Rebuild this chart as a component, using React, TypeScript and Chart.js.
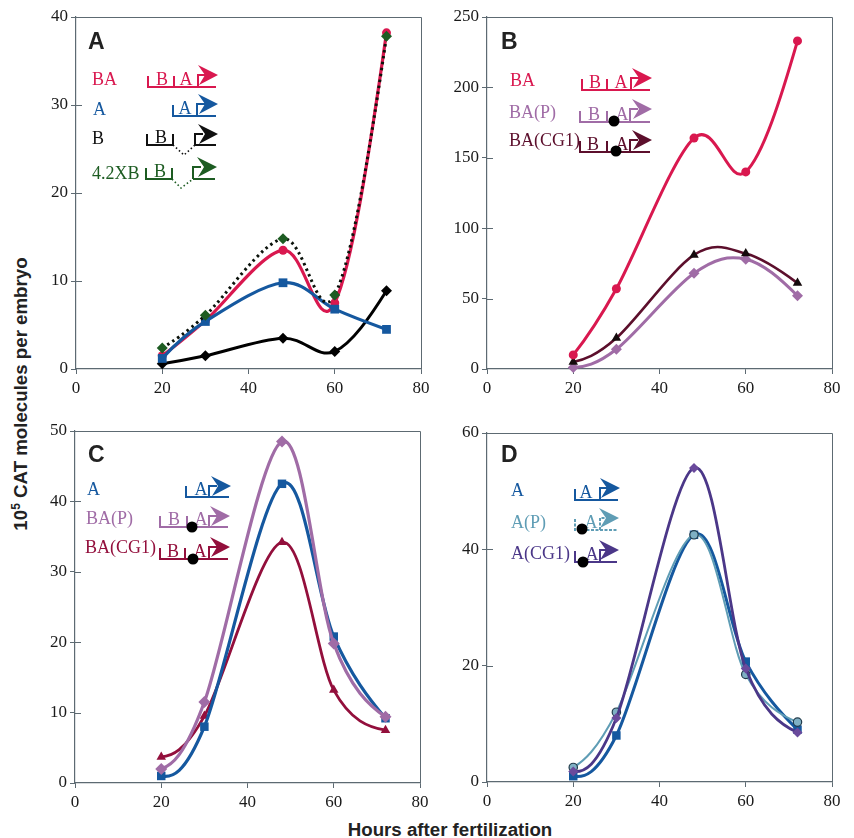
import React, { useEffect, useRef } from "react";
import { Chart, registerables } from "chart.js";

Chart.register(...registerables);

const hours = [20, 30, 48, 60, 72];
const xTicksMax = 80;

// Panel A
const aBA = [1.5, 5.5, 13.5, 7.5, 38.2];
const aA = [1.2, 5.4, 9.8, 6.8, 4.5];
const aB = [0.6, 1.5, 3.5, 2, 8.9];
const aXB = [2.4, 6.1, 14.8, 8.4, 37.8];
// Panel B
const bBA = [10, 57, 164, 140, 233];
const bP = [1, 14, 68, 78, 52];
const bCG1 = [5, 22, 81, 82, 61];
// Panel C
const cA = [1, 8, 42.5, 20.8, 9.2];
const cP = [2, 11.5, 48.5, 19.8, 9.4];
const cCG1 = [3.7, 9.5, 34.2, 13.2, 7.5];
// Panel D
const dP = [2.5, 12, 42.5, 18.5, 10.3];
const dCG1 = [1.8, 11, 54, 19.5, 8.5];
const dA = [1, 8, 42.5, 20.7, 9];

const RED = "#d9184f";
const BLUE = "#15589f";
const PURPLE = "#a06ca6";
const MAROON = "#5c0f2c";
const CRIMSON = "#930f3c";
const VIOLET = "#4b3788";
const TEAL = "#5f9db5";
const GREEN = "#1d5c22";
const AXIS = "#5d6a72";
const SERIF = "'Liberation Serif', serif";
const SANS = "'Liberation Sans', sans-serif";

type Row = {
  label: string; lx: number; ly: number; color: string;
  x0: number; x1: number; y: number; ticks: number[]; letters: [string, number][]; prom: number; ay: number;
  dot?: [number, number]; gap?: [number, number, number, number]; dashed?: boolean;
};

const panels: any[] = [
  {
    name: "A", box: [40, 0, 395, 410], plot: [76, 17, 421, 369], yMax: 40, yStep: 10, nx: 88, ny: 49,
    series: [
      { data: aB, color: "#000", fill: "#000", style: "rectRot", r: 5.5, w: 3 },
      { data: aBA, color: RED, fill: RED, style: "circle", r: 4.5, w: 3.2 },
      { data: aA, color: BLUE, fill: BLUE, style: "rect", r: 6.2, w: 3.2 },
      { data: aXB, color: "#0b120b", fill: GREEN, style: "rectRot", r: 5.5, w: 3, dash: [2.5, 3.5] },
    ],
    rows: [
      { label: "BA", lx: 92, ly: 85, color: RED, x0: 148, x1: 216, y: 87, ticks: [174], letters: [["B", 162], ["A", 186]], prom: 198, ay: 75 },
      { label: "A", lx: 93, ly: 115, color: BLUE, x0: 173, x1: 216, y: 116, ticks: [], letters: [["A", 185]], prom: 197, ay: 104 },
      { label: "B", lx: 92, ly: 144, color: "#111", x0: 147, x1: 216, y: 145, ticks: [173], letters: [["B", 161]], prom: 195, ay: 134, gap: [173, 195, 184, 155] },
      { label: "4.2XB", lx: 92, ly: 179, color: GREEN, x0: 146, x1: 215, y: 179, ticks: [172], letters: [["B", 160]], prom: 193, ay: 167, gap: [172, 193, 181, 188] },
    ] as Row[],
  },
  {
    name: "B", box: [445, 0, 400, 410], plot: [487, 17, 832, 369], yMax: 250, yStep: 50, nx: 501, ny: 49,
    series: [
      { data: bP, color: PURPLE, fill: PURPLE, style: "rectRot", r: 5.5, w: 3 },
      { data: bCG1, color: MAROON, fill: "#140a0c", style: "triangle", r: 5.5, w: 2.6 },
      { data: bBA, color: RED, fill: RED, style: "circle", r: 4.5, w: 3 },
    ],
    rows: [
      { label: "BA", lx: 510, ly: 86, color: RED, x0: 582, x1: 650, y: 90, ticks: [607], letters: [["B", 595], ["A", 621]], prom: 631, ay: 78 },
      { label: "BA(P)", lx: 509, ly: 118, color: PURPLE, x0: 580, x1: 650, y: 122, ticks: [607], letters: [["B", 594], ["A", 622]], prom: 630, ay: 109, dot: [614, 121] },
      { label: "BA(CG1)", lx: 509, ly: 146, color: MAROON, x0: 580, x1: 650, y: 152, ticks: [607], letters: [["B", 593], ["A", 622]], prom: 630, ay: 140, dot: [616, 151] },
    ] as Row[],
  },
  {
    name: "C", box: [40, 415, 395, 400], plot: [75, 431, 420, 783], yMax: 50, yStep: 10, nx: 88, ny: 462,
    series: [
      { data: cCG1, color: CRIMSON, fill: CRIMSON, style: "triangle", r: 5.5, w: 2.8 },
      { data: cA, color: BLUE, fill: BLUE, style: "rect", r: 6, w: 3.2 },
      { data: cP, color: PURPLE, fill: PURPLE, style: "rectRot", r: 6, w: 3.2 },
    ],
    rows: [
      { label: "A", lx: 87, ly: 495, color: BLUE, x0: 186, x1: 229, y: 497, ticks: [], letters: [["A", 201]], prom: 209, ay: 486 },
      { label: "BA(P)", lx: 86, ly: 524, color: PURPLE, x0: 160, x1: 228, y: 527, ticks: [187], letters: [["B", 174], ["A", 201]], prom: 209, ay: 516, dot: [192, 527] },
      { label: "BA(CG1)", lx: 85, ly: 553, color: CRIMSON, x0: 160, x1: 228, y: 559, ticks: [185], letters: [["B", 173], ["A", 200]], prom: 209, ay: 547, dot: [193, 559] },
    ] as Row[],
  },
  {
    name: "D", box: [445, 415, 400, 400], plot: [487, 433, 832, 782], yMax: 60, yStep: 20, nx: 501, ny: 462,
    series: [
      { data: dA, color: BLUE, fill: BLUE, style: "rect", r: 6, w: 3 },
      { data: dP, color: TEAL, fill: "#7fb0c4", style: "circle", r: 4.2, w: 2, edge: "#203a4a" },
      { data: dCG1, color: VIOLET, fill: "#6a4a9c", style: "rectRot", r: 5, w: 2.8 },
    ],
    rows: [
      { label: "A", lx: 511, ly: 496, color: BLUE, x0: 575, x1: 618, y: 500, ticks: [], letters: [["A", 586]], prom: 600, ay: 488 },
      { label: "A(P)", lx: 511, ly: 528, color: TEAL, x0: 575, x1: 617, y: 530, ticks: [], letters: [["A", 591]], prom: 600, ay: 518, dot: [582, 529], dashed: true },
      { label: "A(CG1)", lx: 511, ly: 559, color: VIOLET, x0: 575, x1: 617, y: 562, ticks: [], letters: [["A", 592]], prom: 600, ay: 550, dot: [583, 562] },
    ] as Row[],
  },
];

// Smooth line as the source plot has it: tangents from the neighbouring points, eased at both ends.
const smoothing = {
  id: "smoothing",
  beforeDatasetsDraw(chart: any) {
    chart.getSortedVisibleDatasetMetas().forEach((meta: any) => {
      const line = meta.dataset;
      line.updateControlPoints(chart.chartArea, "x");
      const pts = line.points;
      const n = pts.length;
      const tan = pts.map((_: any, i: number) => {
        if (i === 0 || i === n - 1) return null;
        return { x: (pts[i + 1].x - pts[i - 1].x) / 2, y: (pts[i + 1].y - pts[i - 1].y) / 2 };
      });
      const endTan = (a: any, b: any, t: any) => ({
        x: (3 * (b.x - a.x) - 1.1 * t.x) / 2,
        y: (3 * (b.y - a.y) - 1.1 * t.y) / 2,
      });
      tan[0] = endTan(pts[0], pts[1], tan[1]);
      tan[n - 1] = endTan(pts[n - 2], pts[n - 1], tan[n - 2]);
      pts.forEach((p: any, i: number) => {
        p.cp1x = p.x - tan[i].x / 3;
        p.cp1y = p.y - tan[i].y / 3;
        p.cp2x = p.x + tan[i].x / 3;
        p.cp2y = p.y + tan[i].y / 3;
      });
    });
  },
};

function drawRow(ctx: CanvasRenderingContext2D, r: Row) {
  ctx.save();
  ctx.font = `18px ${SERIF}`;
  ctx.textBaseline = "alphabetic";
  ctx.textAlign = "left";
  ctx.fillStyle = r.color;
  ctx.fillText(r.label, r.lx, r.ly);
  ctx.strokeStyle = r.color;
  ctx.lineWidth = 2;
  if (r.dashed) ctx.setLineDash([3, 1.5]);
  ctx.beginPath();
  ctx.moveTo(r.x0, r.y - 11);
  ctx.lineTo(r.x0, r.y);
  if (r.gap) {
    const [a, b] = r.gap;
    ctx.lineTo(a, r.y);
    ctx.moveTo(b, r.y);
  }
  ctx.lineTo(r.x1, r.y);
  for (const t of r.ticks) {
    ctx.moveTo(t, r.y);
    ctx.lineTo(t, r.y - 11);
  }
  ctx.moveTo(r.prom, r.y);
  ctx.lineTo(r.prom, r.ay);
  ctx.lineTo(r.prom + 8, r.ay);
  ctx.stroke();
  ctx.setLineDash([]);
  if (r.gap) {
    const [a, b, c, d] = r.gap;
    ctx.setLineDash([1.5, 2.5]);
    ctx.lineWidth = 1.6;
    ctx.beginPath();
    ctx.moveTo(a, r.y);
    ctx.lineTo(c, d);
    ctx.lineTo(b, r.y);
    ctx.stroke();
    ctx.setLineDash([]);
  }
  ctx.font = `18px ${SERIF}`;
  ctx.textAlign = "center";
  for (const [t, x] of r.letters) ctx.fillText(t, x, r.y - 2);
  const tip = r.x1 + 2;
  ctx.beginPath();
  ctx.moveTo(tip, r.ay);
  ctx.lineTo(tip - 20, r.ay - 10);
  ctx.lineTo(tip - 13, r.ay);
  ctx.lineTo(tip - 19, r.ay + 10);
  ctx.closePath();
  ctx.fill();
  if (r.dot) {
    ctx.fillStyle = "#000";
    ctx.beginPath();
    ctx.arc(r.dot[0], r.dot[1], 5.5, 0, Math.PI * 2);
    ctx.fill();
  }
  ctx.restore();
}

function Panel({ p }: { p: any }) {
  const ref = useRef<HTMLCanvasElement>(null);
  useEffect(() => {
    const [bx, by, bw, bh] = p.box;
    const [pl, pt, pr, pb] = p.plot;
    const decor = {
      id: "decor",
      afterDraw(chart: any) {
        const ctx = chart.ctx as CanvasRenderingContext2D;
        ctx.save();
        ctx.strokeStyle = AXIS;
        ctx.lineWidth = 1;
        const a = chart.chartArea;
        ctx.beginPath();
        ctx.moveTo(a.left, a.top + 0.5);
        ctx.lineTo(a.right + 0.5, a.top + 0.5);
        ctx.lineTo(a.right + 0.5, a.bottom);
        chart.scales.y.ticks.forEach((t: any) => {
          const py = Math.round(chart.scales.y.getPixelForValue(t.value)) + 0.5;
          if (t.value > 0 && t.value < p.yMax) {
            ctx.moveTo(a.left, py);
            ctx.lineTo(a.left + 6, py);
          }
        });
        ctx.stroke();
        ctx.translate(-bx, -by);
        ctx.fillStyle = "#222";
        ctx.font = `bold 23px ${SANS}`;
        ctx.textAlign = "left";
        ctx.textBaseline = "alphabetic";
        ctx.fillText(p.name, p.nx, p.ny);
        p.rows.forEach((r: Row) => drawRow(ctx, r));
        ctx.restore();
      },
    };
    const axis = (max: number, step: number, pad: number) => ({
      type: "linear" as const,
      min: 0,
      max,
      ticks: { stepSize: step, padding: pad, color: "#1a1a1a", font: { family: SERIF, size: 17 }, maxRotation: 0, autoSkip: false },
      grid: { drawOnChartArea: false, drawTicks: true, tickLength: 5, tickColor: AXIS, tickWidth: 1 },
      border: { color: AXIS, width: 1.2 },
    });
    const chart = new Chart(ref.current!, {
      type: "line",
      data: {
        labels: hours,
        datasets: p.series.map((s: any, i: number) => ({
          data: hours.map((h: number, k: number) => ({ x: h, y: s.data[k] })),
          borderColor: s.color,
          backgroundColor: s.fill,
          pointBackgroundColor: s.fill,
          pointBorderColor: s.edge ?? s.fill,
          pointBorderWidth: s.edge ? 1.2 : 0,
          pointStyle: s.style,
          pointRadius: s.r,
          borderWidth: s.w,
          borderDash: s.dash ?? [],
          tension: 0.5,
          fill: false,
          order: -i,
          clip: false,
        })),
      },
      options: {
        responsive: false,
        animation: false,
        layout: { padding: { left: 0, top: pt - by, right: bx + bw - pr, bottom: 0 } },
        plugins: { legend: { display: false }, tooltip: { enabled: false } },
        scales: {
          x: { ...axis(xTicksMax, 20, 4), afterFit: (s: any) => { s.height = by + bh - pb; } },
          y: { ...axis(p.yMax, p.yStep, 3), afterFit: (s: any) => { s.width = pl - bx; } },
        },
      } as any,
      plugins: [smoothing, decor],
    });
    return () => chart.destroy();
  }, [p]);
  const [bx, by, bw, bh] = p.box;
  return (
    <canvas
      ref={ref}
      width={bw}
      height={bh}
      style={{ position: "absolute", left: bx, top: by, width: bw, height: bh }}
    />
  );
}

export default function App() {
  return (
    <div style={{ position: "absolute", left: 0, top: 0, width: 854, height: 838, overflow: "hidden", background: "#fff" }}>
      {panels.map((p) => <Panel key={p.name} p={p} />)}
      <div style={{ position: "absolute", left: 250, top: 820, width: 400, textAlign: "center", font: `bold 18.7px ${SANS}`, color: "#222", lineHeight: "20px" }}>
        Hours after fertilization
      </div>
      <div style={{ position: "absolute", left: 21, top: 394, width: 0, height: 0 }}>
        <div style={{ position: "absolute", width: 400, left: -200, top: -10, textAlign: "center", transform: "rotate(-90deg)", font: `bold 18.7px ${SANS}`, color: "#222", lineHeight: "20px", whiteSpace: "nowrap" }}>
          10<sup style={{ fontSize: 12, lineHeight: 0 }}>5</sup> CAT molecules per embryo
        </div>
      </div>
    </div>
  );
}
